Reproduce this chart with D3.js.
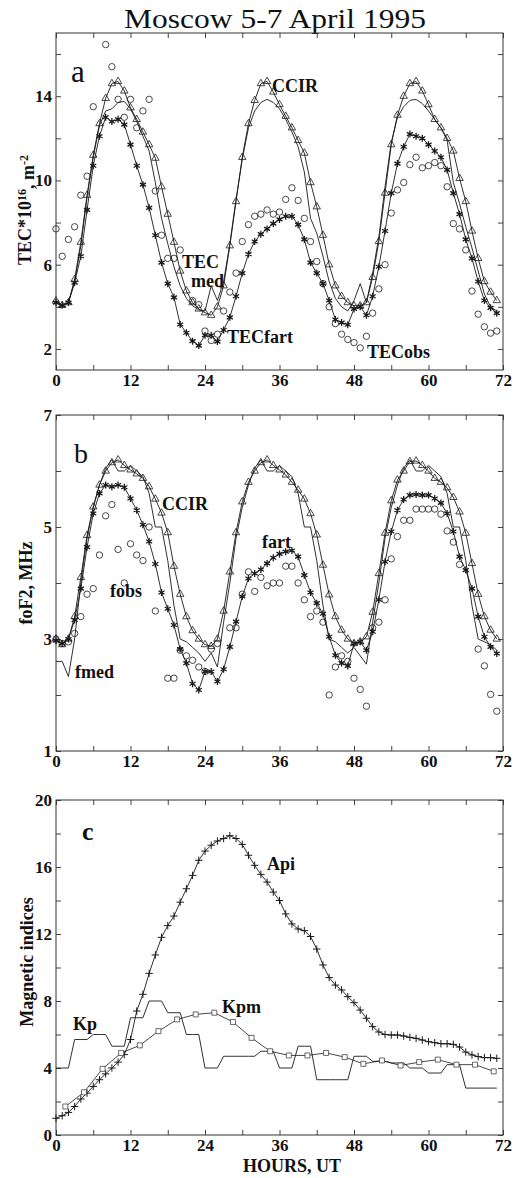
<!DOCTYPE html>
<html>
<head>
<meta charset="utf-8">
<script src="https://cdn.jsdelivr.net/npm/d3@7"></script>
<style>
body { margin: 0; background: #fff; }
svg text { font-family: "Liberation Serif", "Times New Roman", serif; fill: #111; }
.tick text { font-weight: bold; font-size: 17px; }
.lbl { font-weight: bold; font-size: 18px; }
</style>
</head>
<body>
<svg id="fig" width="515" height="1178"></svg>
<script>
// Moscow 5-7 April 1995: TEC, foF2 and magnetic indices, hourly UT 0..71

const hours = d3.range(0, 72);

// ── panel a: TEC*10^16 m^-2 ──
const tecCcir = [4.28, 4.07, 4.2, 5.3, 7.07, 9.3, 11.2, 12.7, 13.9, 14.6, 14.7, 14.25,
    13.45, 12.9, 12.3, 11.7, 11.06, 9.7, 8.4, 7.07, 5.7, 4.76, 4.2, 3.9,
    3.72, 3.6, 4.0, 5.0, 6.9, 9.0, 11.1, 12.7, 13.8, 14.6, 14.7, 14.2,
    13.6, 13.05, 12.5, 11.9, 11.3, 9.9, 8.75, 7.4, 6.0, 5.0, 4.5, 4.2,
    4.05, 4.05, 4.2, 5.4, 7.1, 9.4, 11.7, 13.1, 14.0, 14.6, 14.7, 14.25,
    13.6, 12.9, 12.5, 12.0, 11.4, 10.1, 9.0, 7.6, 6.3, 5.2, 4.7, 4.3];
const tecMed = [4.2, 4.05, 4.2, 5.2, 6.9, 9.2, 11.1, 12.6, 13.3, 13.4, 13.7, 13.75,
    13.4, 12.8, 12.1, 11.4, 9.9, 8.2, 7.0, 5.9, 5.0, 4.4, 4.05, 3.85,
    3.8, 5.0, 4.3, 5.2, 7.0, 9.1, 11.0, 12.5, 13.3, 13.7, 13.85, 13.7,
    13.4, 12.9, 12.3, 11.6, 10.4, 8.2, 7.5, 6.4, 5.2, 4.4, 4.0, 3.8,
    4.3, 5.1, 4.2, 5.6, 7.3, 9.7, 11.8, 13.0, 13.5, 13.8, 13.85, 13.65,
    13.3, 12.9, 12.5, 11.9, 9.9, 8.9, 7.8, 6.8, 5.7, 4.6, 4.0, 3.8];
const tecFart = [4.2, 4.07, 4.2, 5.15, 6.4, 8.6, 10.7, 12.1, 13.0, 12.8, 12.9, 12.65,
    11.7, 10.7, 9.8, 8.7, 7.4, 6.1, 5.1, 4.45, 3.16, 2.77, 2.37, 2.16,
    2.65, 2.65, 2.35, 2.9, 3.5, 4.5, 5.6, 6.5, 7.1, 7.45, 7.7, 7.95,
    8.15, 8.3, 8.3, 7.9, 7.2, 6.1, 5.6, 5.1, 4.3, 3.4, 3.25, 3.15,
    3.9, 4.0, 3.6, 4.5, 5.9, 7.6, 9.4, 10.8, 11.6, 12.2, 12.1, 12.0,
    11.7, 11.4, 11.1, 10.5, 9.4, 8.4, 7.2, 6.3, 5.2, 4.3, 3.95, 3.7];
const tecObs = [7.7, 6.4, 7.2, 7.8, 9.3, 10.2, 13.5, null, 16.45, 15.4, 13.85, 13.0,
    13.85, 12.5, 13.3, 13.85, 9.5, 7.4, 6.3, 6.3, 6.7, null, 4.3, 4.1,
    2.85, 2.4, 2.7, 3.8, 4.7, 5.6, 7.1, 7.9, 8.3, 8.4, 8.6, 8.4,
    8.5, 9.1, 9.65, 9.05, 8.2, 7.1, 6.15, 5.1, 4.0, 3.2, 2.7, 2.45,
    2.3, 2.05, 2.6, 3.7, 4.85, 6.0, 8.45, 9.55, 9.9, 10.75, 11.1, 10.6,
    10.7, 10.85, 10.7, 9.7, 7.95, 7.7, 6.7, 4.75, 3.65, 3.05, 2.75, 2.85];

// ── panel b: foF2, MHz ──
const fCcir = [3.0, 2.9, 3.0, 3.4, 4.1, 4.85, 5.36, 5.75, 6.0, 6.15, 6.2, 6.1,
    6.02, 5.95, 5.87, 5.72, 5.5, 5.25, 4.9, 4.3, 3.8, 3.4, 3.15, 3.0,
    2.9, 2.87, 3.0, 3.5, 4.2, 4.9, 5.45, 5.8, 6.0, 6.15, 6.2, 6.1,
    6.02, 5.93, 5.8, 5.66, 5.5, 5.24, 4.86, 4.32, 3.79, 3.4, 3.16, 3.0,
    2.92, 2.95, 3.04, 3.48, 4.17, 4.89, 5.47, 5.84, 6.0, 6.17, 6.18, 6.1,
    6.0, 5.87, 5.8, 5.7, 5.53, 5.27, 4.89, 4.35, 3.8, 3.4, 3.16, 3.0];
const fMed = [2.6, 2.6, 2.33, 3.0, 4.0, 4.8, 5.35, 5.75, 6.05, 6.2, 6.0, 6.0,
    6.1, 6.0, 5.9, 5.6, 5.0, 5.0, 4.4, 3.6, 3.0, 2.95, 2.85, 2.75,
    2.6, 2.75, 2.5, 3.3, 4.0, 4.8, 5.35, 5.75, 6.05, 6.2, 6.0, 6.0,
    6.1, 6.0, 5.9, 5.6, 5.0, 5.0, 4.4, 3.6, 3.0, 2.95, 2.85, 2.75,
    2.85, 2.7, 2.55, 3.3, 4.0, 4.8, 5.35, 5.75, 6.05, 6.2, 6.0, 6.0,
    6.1, 6.0, 5.9, 5.6, 5.0, 5.0, 4.4, 3.6, 3.0, 2.95, 2.9, 2.8];
const fFart = [2.97, 2.92, 3.0, 3.34, 3.9, 4.64, 5.24, 5.6, 5.75, 5.72, 5.75, 5.71,
    5.51, 5.3, 5.04, 4.74, 4.34, 3.83, 3.54, 3.25, 2.82, 2.57, 2.2, 2.09,
    2.42, 2.42, 2.24, 2.46, 2.86, 3.31, 3.76, 4.08, 4.17, 4.24, 4.35, 4.45,
    4.52, 4.56, 4.58, 4.47, 4.14, 3.83, 3.64, 3.45, 3.04, 2.71, 2.57, 2.52,
    2.92, 2.95, 2.8, 3.13, 3.7, 4.38, 4.92, 5.3, 5.49, 5.57, 5.58, 5.57,
    5.57, 5.51, 5.43, 5.24, 4.92, 4.47, 4.23, 3.9, 3.4, 3.04, 2.86, 2.74];
const fObs = [3.0, 2.92, 2.95, 3.1, 3.4, 3.8, 3.9, 4.5, 5.2, 5.4, 4.6, 4.0,
    4.7, 4.5, 4.4, 5.0, 3.5, null, 2.3, 2.3, 2.8, 2.7, 2.62, 2.5,
    2.42, 2.82, 2.92, null, 3.2, 3.2, 3.8, 4.2, 3.85, 4.1, 3.95, 4.0,
    4.0, 4.3, 4.3, 4.0, 3.7, 3.4, 3.5, 3.3, 2.0, 2.5, 2.7, 2.6,
    2.3, 2.1, 1.8, 3.2, 3.3, 3.7, 4.43, 4.83, 5.12, 5.12, 5.32, 5.32,
    5.32, 5.32, 5.23, 4.93, 4.73, 4.33, null, null, 2.82, 2.52, 2.01, 1.71];

// ── panel c: magnetic indices ──
const api = [1.0, 1.15, 1.35, 1.7, 2.15, 2.5, 2.9, 3.3, 3.65, 4.0, 4.35, 4.8,
    5.7, 7.4, 8.4, 9.65, 10.75, 11.8, 12.5, 13.07, 13.9, 14.7, 15.5, 16.4,
    16.95, 17.3, 17.55, 17.7, 17.87, 17.7, 17.35, 16.7, 16.1, 15.56, 15.1, 14.5,
    14.0, 13.2, 12.6, 12.3, 12.2, 11.85, 11.1, 10.15, 9.4, 8.95, 8.66, 8.26,
    7.9, 7.46, 6.97, 6.47, 6.15, 6.0, 5.97, 5.97, 5.91, 5.83, 5.77, 5.67,
    5.57, 5.51, 5.45, 5.45, 5.41, 5.25, 4.95, 4.78, 4.68, 4.62, 4.62, 4.58];
// Kp per 3-hour interval (00-03, 03-06, ...), drawn hour by hour
const kpBlocks = [4.0, 5.7, 6.0, 5.3, 7.0, 8.0, 7.3, 6.0, 4.0, 4.7, 4.7, 5.0,
    4.0, 5.3, 3.3, 3.3, 4.7, 4.4, 4.3, 4.0, 3.7, 4.2, 2.8, 2.8];
const kpmHours = d3.range(1.5, 72, 3);
const kpm = [1.7, 2.55, 3.95, 4.9, 5.35, 6.2, 6.9, 7.2, 7.3, 6.75, 5.8, 5.0,
    4.75, 4.75, 4.9, 4.65, 4.25, 4.45, 4.15, 4.35, 4.5, 4.2, 4.2, 3.8];

const xTicks = d3.range(0, 73, 6);

const svg = d3.select("#fig");
const x = d3.scaleLinear().domain([0, 72]).range([56, 503]);
const INK = "#1a1a1a";

svg.append("text")
    .attr("x", 275).attr("y", 28)
    .attr("text-anchor", "middle")
    .attr("textLength", 302).attr("lengthAdjust", "spacingAndGlyphs")
    .style("font-size", "28px")
    .text("Moscow 5-7 April 1995");

// box, inward ticks on all four sides
function frame(y, yTicks, yLabels) {
    const [bottom, top] = y.range();
    const g = svg.append("g");

    g.append("g").attr("transform", `translate(0,${bottom})`)
        .call(d3.axisBottom(x).tickValues(xTicks).tickSize(-5).tickPadding(4)
            .tickFormat(d => d % 12 === 0 ? d : ""));
    g.append("g").attr("transform", `translate(0,${top})`)
        .call(d3.axisTop(x).tickValues(xTicks).tickSize(-5).tickFormat(""));
    g.append("g").attr("transform", `translate(${x.range()[0]},0)`)
        .call(d3.axisLeft(y).tickValues(yTicks).tickSize(-5).tickPadding(4)
            .tickFormat(d => yLabels.includes(d) ? d : ""));
    g.append("g").attr("transform", `translate(${x.range()[1]},0)`)
        .call(d3.axisRight(y).tickValues(yTicks).tickSize(-5).tickFormat(""));

    g.selectAll(".domain").remove();
    g.selectAll(".tick line").attr("stroke", "#444");
    g.append("rect")
        .attr("x", x.range()[0]).attr("y", top)
        .attr("width", x.range()[1] - x.range()[0]).attr("height", bottom - top)
        .attr("fill", "none").attr("stroke", "#333").attr("stroke-width", 1);
    return g;
}

function line(g, y, xs, ys, width) {
    const pts = xs.map((h, i) => [h, ys[i]]).filter(p => p[1] != null);
    g.append("path")
        .datum(pts)
        .attr("fill", "none")
        .attr("stroke", INK)
        .attr("stroke-width", width || 0.9)
        .attr("d", d3.line().x(p => x(p[0])).y(p => y(p[1])));
}

function marks(g, y, xs, ys, type, size, opts) {
    const pts = xs.map((h, i) => [h, ys[i]]).filter(p => p[1] != null);
    g.append("g").selectAll("path")
        .data(pts)
        .join("path")
        .attr("transform", p => `translate(${x(p[0])},${y(p[1])})`)
        .attr("d", d3.symbol().type(type).size(size))
        .attr("fill", opts.fill || "none")
        .attr("stroke", opts.stroke || INK)
        .attr("stroke-width", opts.sw || 0.8);
}

function circles(g, y, ys) {
    g.append("g").selectAll("circle")
        .data(hours.map((h, i) => [h, ys[i]]).filter(p => p[1] != null))
        .join("circle")
        .attr("cx", p => x(p[0])).attr("cy", p => y(p[1])).attr("r", 3.2)
        .attr("fill", "none").attr("stroke", INK).attr("stroke-width", 0.8);
}

function label(g, tx, ty, txt) {
    g.append("text").attr("class", "lbl").attr("x", tx).attr("y", ty).text(txt);
}

function yTitle(cx, cy, parts) {
    const t = svg.append("text")
        .attr("transform", `translate(${cx},${cy}) rotate(-90)`)
        .attr("text-anchor", "middle")
        .style("font-weight", "bold").style("font-size", "18px");
    parts.forEach(p => {
        const s = t.append("tspan").text(p.t);
        if (p.sup) s.attr("dy", "-0.45em").style("font-size", "12px");
        if (p.after) s.attr("dy", "0.45em");
    });
}

const STAR = d3.symbolAsterisk || d3.symbolCross;
const PLUS = d3.symbolPlus || d3.symbolCross;
const TRI = d3.symbolTriangle;

// ── a ──
const ya = d3.scaleLinear().domain([1, 17]).range([370, 33]);
const ga = frame(ya, d3.range(2, 17, 2), [2, 6, 10, 14]);
line(ga, ya, hours, tecCcir);
line(ga, ya, hours, tecMed);
line(ga, ya, hours, tecFart);
marks(ga, ya, hours, tecCcir, TRI, 24, {});
marks(ga, ya, hours, tecFart, STAR, 34, { sw: 1.3 });
circles(ga, ya, tecObs);
ga.append("text").attr("x", 71).attr("y", 82).style("font-size", "31px").text("a");
label(ga, 272, 92, "CCIR");
label(ga, 182, 268, "TEC");
label(ga, 191, 287, "med");
label(ga, 227, 343, "TECfart");
label(ga, 367, 358, "TECobs");
yTitle(31, 210, [{ t: "TEC*10" }, { t: "16", sup: true }, { t: ", m", after: true },
    { t: "-2", sup: true }]);

// ── b ──
const yb = d3.scaleLinear().domain([1, 7]).range([751, 415]);
const gb = frame(yb, d3.range(1, 8, 1), [1, 3, 5, 7]);
line(gb, yb, hours, fCcir);
line(gb, yb, hours, fMed);
line(gb, yb, hours, fFart);
marks(gb, yb, hours, fCcir, TRI, 24, {});
marks(gb, yb, hours, fFart, STAR, 34, { sw: 1.3 });
circles(gb, yb, fObs);
gb.append("text").attr("x", 74).attr("y", 463).style("font-size", "28px").text("b");
label(gb, 162, 510, "CCIR");
label(gb, 262, 548, "fart");
label(gb, 110, 597, "fobs");
label(gb, 75, 678, "fmed");
yTitle(32, 583, [{ t: "foF2, MHz" }]);

// ── c ──
const yc = d3.scaleLinear().domain([0, 20]).range([1135, 800]);
const gc = frame(yc, d3.range(0, 21, 2), [0, 4, 8, 12, 16, 20]);
line(gc, yc, hours, hours.map(h => kpBlocks[Math.floor(h / 3)]));
line(gc, yc, hours, api);
line(gc, yc, kpmHours, kpm, 0.8);
marks(gc, yc, hours, api, PLUS, 20, { sw: 1 });
marks(gc, yc, kpmHours, kpm, d3.symbolSquare, 25, { fill: "#fff", stroke: "#444" });
gc.append("text").attr("x", 82).attr("y", 840)
    .style("font-size", "26px").style("font-weight", "bold").text("c");
label(gc, 267, 870, "Api");
label(gc, 222, 1013, "Kpm");
label(gc, 73, 1030, "Kp");
yTitle(33, 962, [{ t: "Magnetic indices" }]);

svg.append("text")
    .attr("x", 292).attr("y", 1172)
    .attr("text-anchor", "middle")
    .style("font-weight", "bold").style("font-size", "18px")
    .text("HOURS, UT");
</script>
</body>
</html>
